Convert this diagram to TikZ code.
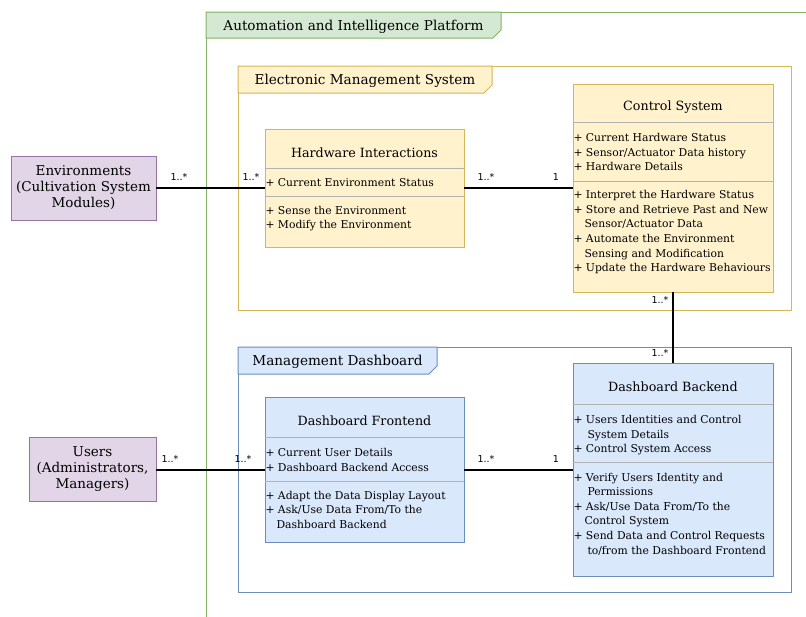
\documentclass[tikz,border=0pt]{standalone}
\usepackage{fontspec}
\setmainfont{DejaVu Serif}
\newfontfamily\multfont{DejaVu Sans}
\usepackage{tikz}
\usetikzlibrary{arrows.meta}
\usetikzlibrary{positioning}

\definecolor{platfill}{HTML}{D5E8D4}
\definecolor{platline}{HTML}{82B366}
\definecolor{emsfill}{HTML}{FFF2CC}
\definecolor{emsline}{HTML}{D6B656}
\definecolor{dashfill}{HTML}{DAE8FC}
\definecolor{dashline}{HTML}{6C8EBF}
\definecolor{actfill}{HTML}{E1D5E7}
\definecolor{actline}{HTML}{9673A6}

\begin{document}
\begin{tikzpicture}[x=1pt, y=-1pt]
            \tikzset{every node/.style={inner sep=0pt, outer sep=0pt},
                    frameline/.style={line width=1pt},
                    clsbox/.style={draw, line width=1pt, anchor=north west},
                    divider/.style={draw=black!30, line width=1pt},
                    actor/.style={draw=actline, fill=actfill, line width=1pt, align=center,
                                  font=\fontsize{13.5}{16}\selectfont},
                    title/.style={anchor=base, font=\fontsize{12.7}{15}\selectfont},
                    tabtext/.style={anchor=base, font=\fontsize{13.6}{15}\selectfont},
                    member/.style={anchor=base west, align=left,
                                   font=\fontsize{10.8}{14.6}\selectfont},
                    mult/.style={font=\multfont\fontsize{9.5}{10}\selectfont},
                    conn/.style={draw=black, line width=2pt}}
            \clip (0,0) rectangle (806,616);
            % platform frame
            \draw[frameline, draw=platline] (830,12) -- (206,12) -- (206,640);
            \draw[frameline, draw=platline, fill=platfill]
                (206,12) -- (501,12) -- (501,30) -- (493,38) -- (206,38) -- cycle;
            \node[tabtext] (plat) at (353.5,30) {Automation and Intelligence Platform};
            % electronic management system frame
            \draw[frameline, draw=emsline] (238,66) rectangle (791,310);
            \draw[frameline, draw=emsline, fill=emsfill]
                (238,66) -- (492,66) -- (492,85) -- (484,93) -- (238,93) -- cycle;
            \node[tabtext] (ems) at (365,84) {Electronic Management System};
            % management dashboard frame
            \draw[frameline, draw=dashline] (238,347) rectangle (791,592);
            \draw[frameline, draw=dashline, fill=dashfill]
                (238,347) -- (437,347) -- (437,366) -- (429,374) -- (238,374) -- cycle;
            \node[tabtext] (md) at (337.5,365) {Management Dashboard};

            % actors
            \node[actor, minimum width=145, minimum height=64] (env) at (83.5,188)
                {Environments\\(Cultivation System\\Modules)};
            \node[actor, minimum width=127, minimum height=64] (users) at (92.5,469.5)
                {Users\\(Administrators,\\Managers)};

            % hardware interactions
            \node[clsbox, draw=emsline, fill=emsfill, minimum width=199, minimum height=118] (hw) at (265,129) {};
            \draw[divider] ([yshift=-39pt]hw.north west) -- ([yshift=-39pt]hw.north east);
            \draw[divider] ([yshift=-67pt]hw.north west) -- ([yshift=-67pt]hw.north east);
            \node[title] (hwt) at (364.5,157) {Hardware Interactions};
            \node[member] (hwa) at (265.5,186.5) {+ Current Environment Status};
            \node[member] (hwm) at (265.5,228.9) {+ Sense the Environment\\+ Modify the Environment};

            % control system
            \node[clsbox, draw=emsline, fill=emsfill, minimum width=200, minimum height=208] (cs) at (573,84) {};
            \draw[divider] ([yshift=-38pt]cs.north west) -- ([yshift=-38pt]cs.north east);
            \draw[divider] ([yshift=-97pt]cs.north west) -- ([yshift=-97pt]cs.north east);
            \node[title] (cst) at (673,110.7) {Control System};
            \node[member] (csa) at (573.5,170.9)
                {+ Current Hardware Status\\+ Sensor/Actuator Data history\\+ Hardware Details};
            \node[member] (csm) at (573.5,271.7)
                {+ Interpret the Hardware Status\\+ Store and Retrieve Past and New\\\hspace*{11pt}Sensor/Actuator Data\\+ Automate the Environment\\\hspace*{11pt}Sensing and Modification\\+ Update the Hardware Behaviours};

            % dashboard frontend
            \node[clsbox, draw=dashline, fill=dashfill, minimum width=199, minimum height=145] (df) at (265,397) {};
            \draw[divider] ([yshift=-40pt]df.north west) -- ([yshift=-40pt]df.north east);
            \draw[divider] ([yshift=-84pt]df.north west) -- ([yshift=-84pt]df.north east);
            \node[title] (dft) at (364.5,425.7) {Dashboard Frontend};
            \node[member] (dfa) at (265.5,471.3) {+ Current User Details\\+ Dashboard Backend Access};
            \node[member] (dfm) at (265.5,528.2)
                {+ Adapt the Data Display Layout\\+ Ask/Use Data From/To the\\\hspace*{11pt}Dashboard Backend};

            % dashboard backend
            \node[clsbox, draw=dashline, fill=dashfill, minimum width=200, minimum height=213] (db) at (573,363) {};
            \draw[divider] ([yshift=-41pt]db.north west) -- ([yshift=-41pt]db.north east);
            \draw[divider] ([yshift=-99pt]db.north west) -- ([yshift=-99pt]db.north east);
            \node[title] (dbt) at (673,391) {Dashboard Backend};
            \node[member] (dba) at (573.5,452.7)
                {+ Users Identities and Control\\\hspace*{14pt}System Details\\+ Control System Access};
            \node[member] (dbm) at (573.5,554)
                {+ Verify Users Identity and\\\hspace*{14pt}Permissions\\+ Ask/Use Data From/To the\\\hspace*{11pt}Control System\\+ Send Data and Control Requests\\\hspace*{14pt}to/from the Dashboard Frontend};

            % associations
            \path[conn] (env) edge (hw);
            \path[conn] (hw) edge (cs);
            \path[conn] (cs) edge (db);
            \path[conn] (users) edge (df);
            \path[conn] (df) edge (db);
            \node[mult] (m1) at (179,177) {1..*};
            \node[mult] (m2) at (251,177) {1..*};
            \node[mult] (m3) at (486,177) {1..*};
            \node[mult] (m4) at (556,177) {1};
            \node[mult] (m5) at (660,300) {1..*};
            \node[mult] (m6) at (660,353) {1..*};
            \node[mult] (m7) at (170,459) {1..*};
            \node[mult] (m8) at (243,459) {1..*};
            \node[mult] (m9) at (486,459) {1..*};
            \node[mult] (m10) at (556,459) {1};
        \end{tikzpicture}
\end{document}
